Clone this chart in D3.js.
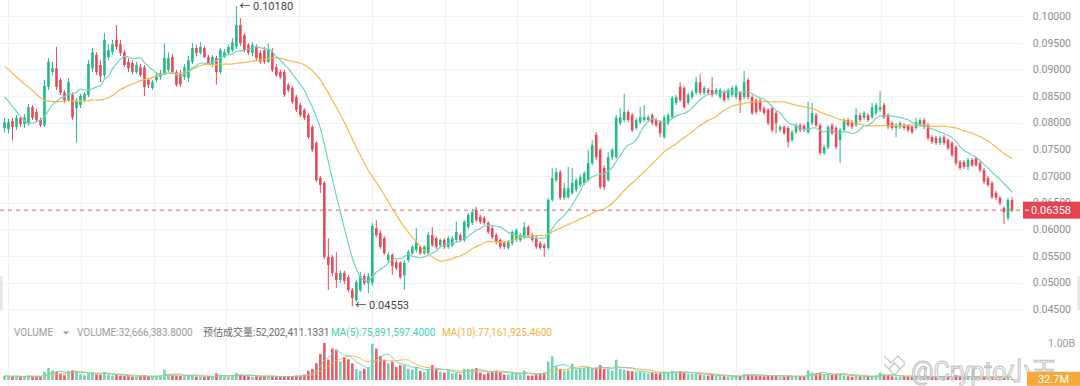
<!DOCTYPE html>
<html>
<head>
<meta charset="utf-8">
<script src="https://cdn.jsdelivr.net/npm/d3@7/dist/d3.min.js"></script>
<style>
body { margin: 0; background: #fff; }
svg { display: block; font-family: Roboto, "Noto Sans CJK SC", sans-serif; }
</style>
</head>
<body>
<div id="chart"></div>
<script>
// closes before the visible window (only feed the moving averages)
const priorCloses = [0.1000,0.1010,0.0995,0.1005,0.1012,0.1000,0.0998,0.1008,0.1003,0.1005,
  0.0960,0.0920,0.0880,0.0850,0.0830,0.0840,0.0820,0.0850,0.0855,0.0859,
  0.0880,0.0895,0.0900,0.0890,0.0885,0.0878,0.0810,0.0775,0.0766];

// [open, high, low, close]
const candles = [
[0.0790,0.0809,0.0782,0.0801],[0.0788,0.0807,0.0780,0.0801],[0.0803,0.0809,0.0767,0.0792],[0.0792,0.0814,0.0786,0.0809],[0.0809,0.0812,0.0792,0.0797],
[0.0797,0.0816,0.0790,0.0810],[0.0797,0.0835,0.0794,0.0829],[0.0829,0.0833,0.0805,0.0809],[0.0820,0.0826,0.0801,0.0805],[0.0805,0.0809,0.0792,0.0795],
[0.0795,0.0880,0.0792,0.0869],[0.0867,0.0921,0.0861,0.0914],[0.0895,0.0914,0.0889,0.0902],[0.0902,0.0942,0.0861,0.0867],[0.0880,0.0884,0.0852,0.0856],
[0.0857,0.0861,0.0837,0.0842],[0.0842,0.0884,0.0839,0.0876],[0.0852,0.0857,0.0805,0.0810],[0.0827,0.0846,0.0762,0.0841],[0.0833,0.0854,0.0827,0.0850],
[0.0842,0.0857,0.0839,0.0854],[0.0852,0.0917,0.0848,0.0910],[0.0902,0.0940,0.0895,0.0932],[0.0927,0.0932,0.0889,0.0895],[0.0908,0.0917,0.0876,0.0887],
[0.0889,0.0968,0.0884,0.0955],[0.0923,0.0947,0.0917,0.0936],[0.0932,0.0955,0.0927,0.0947],[0.0955,0.0983,0.0936,0.0942],[0.0947,0.0955,0.0925,0.0931],
[0.0932,0.0936,0.0904,0.0908],[0.0914,0.0921,0.0895,0.0902],[0.0912,0.0917,0.0891,0.0895],[0.0895,0.0914,0.0891,0.0908],[0.0904,0.0910,0.0886,0.0889],
[0.0904,0.0908,0.0850,0.0867],[0.0880,0.0884,0.0865,0.0871],[0.0865,0.0880,0.0861,0.0876],[0.0880,0.0895,0.0876,0.0889],[0.0886,0.0899,0.0880,0.0893],
[0.0893,0.0949,0.0889,0.0921],[0.0899,0.0932,0.0895,0.0921],[0.0923,0.0929,0.0891,0.0895],[0.0895,0.0899,0.0867,0.0871],[0.0891,0.0899,0.0867,0.0872],
[0.0886,0.0910,0.0880,0.0904],[0.0884,0.0925,0.0876,0.0917],[0.0914,0.0949,0.0910,0.0940],[0.0940,0.0946,0.0925,0.0931],[0.0931,0.0951,0.0927,0.0942],
[0.0940,0.0944,0.0921,0.0923],[0.0923,0.0927,0.0908,0.0912],[0.0908,0.0927,0.0904,0.0923],[0.0921,0.0925,0.0871,0.0895],[0.0895,0.0940,0.0891,0.0936],
[0.0923,0.0938,0.0921,0.0932],[0.0931,0.0947,0.0927,0.0942],[0.0936,0.0959,0.0932,0.0951],[0.0942,0.1018,0.0938,0.0983],[0.0983,0.0996,0.0944,0.0949],
[0.0964,0.0968,0.0932,0.0936],[0.0946,0.0949,0.0927,0.0931],[0.0931,0.0951,0.0925,0.0946],[0.0942,0.0947,0.0917,0.0921],[0.0931,0.0936,0.0910,0.0914],
[0.0936,0.0942,0.0910,0.0914],[0.0914,0.0949,0.0912,0.0936],[0.0932,0.0940,0.0895,0.0899],[0.0904,0.0910,0.0886,0.0889],[0.0895,0.0899,0.0882,0.0886],
[0.0895,0.0899,0.0848,0.0852],[0.0871,0.0874,0.0857,0.0861],[0.0865,0.0869,0.0835,0.0839],[0.0848,0.0852,0.0820,0.0824],[0.0833,0.0837,0.0810,0.0814],
[0.0824,0.0827,0.0805,0.0809],[0.0814,0.0818,0.0769,0.0773],[0.0792,0.0795,0.0745,0.0749],[0.0762,0.0765,0.0689,0.0692],[0.0696,0.0700,0.0668,0.0683],
[0.0687,0.0690,0.0544,0.0548],[0.0548,0.0583,0.0486,0.0533],[0.0548,0.0552,0.0512,0.0518],[0.0518,0.0557,0.0490,0.0505],[0.0505,0.0523,0.0499,0.0518],
[0.0518,0.0522,0.0497,0.0503],[0.0510,0.0514,0.0482,0.0486],[0.0486,0.0490,0.04553,0.0471],[0.0467,0.0505,0.0463,0.0501],[0.0486,0.0520,0.0482,0.0512],
[0.0512,0.0516,0.0495,0.0499],[0.0499,0.0518,0.0480,0.0512],[0.0499,0.0612,0.0493,0.0606],[0.0602,0.0617,0.0585,0.0589],[0.0593,0.0598,0.0563,0.0567],
[0.0583,0.0587,0.0552,0.0555],[0.0542,0.0557,0.0538,0.0552],[0.0552,0.0555,0.0514,0.0531],[0.0538,0.0542,0.0523,0.0527],[0.0537,0.0540,0.0507,0.0510],
[0.0514,0.0542,0.0486,0.0537],[0.0542,0.0561,0.0538,0.0557],[0.0555,0.0570,0.0552,0.0567],[0.0561,0.0602,0.0557,0.0576],[0.0567,0.0570,0.0552,0.0555],
[0.0555,0.0570,0.0552,0.0567],[0.0555,0.0595,0.0552,0.0589],[0.0589,0.0604,0.0567,0.0570],[0.0583,0.0587,0.0563,0.0567],[0.0570,0.0583,0.0567,0.0580],
[0.0580,0.0583,0.0563,0.0567],[0.0567,0.0587,0.0563,0.0583],[0.0570,0.0587,0.0567,0.0583],[0.0580,0.0614,0.0576,0.0595],[0.0589,0.0593,0.0576,0.0580],
[0.0580,0.0617,0.0576,0.0614],[0.0604,0.0630,0.0600,0.0627],[0.0612,0.0638,0.0608,0.0632],[0.0636,0.0642,0.0614,0.0617],[0.0623,0.0627,0.0610,0.0614],
[0.0621,0.0625,0.0608,0.0612],[0.0612,0.0615,0.0591,0.0595],[0.0602,0.0606,0.0582,0.0585],[0.0589,0.0593,0.0572,0.0576],[0.0580,0.0583,0.0563,0.0567],
[0.0574,0.0578,0.0563,0.0567],[0.0565,0.0580,0.0561,0.0576],[0.0574,0.0598,0.0570,0.0595],[0.0580,0.0602,0.0576,0.0598],[0.0580,0.0593,0.0576,0.0589],
[0.0585,0.0614,0.0582,0.0604],[0.0604,0.0608,0.0585,0.0589],[0.0589,0.0593,0.0576,0.0580],[0.0583,0.0587,0.0563,0.0567],[0.0574,0.0578,0.0561,0.0565],
[0.0570,0.0574,0.0548,0.0565],[0.0565,0.0659,0.0561,0.0655],[0.0655,0.0715,0.0651,0.0696],[0.0692,0.0715,0.0689,0.0707],[0.0707,0.0711,0.0655,0.0659],
[0.0659,0.0687,0.0655,0.0677],[0.0660,0.0717,0.0657,0.0677],[0.0668,0.0715,0.0664,0.0687],[0.0674,0.0696,0.0670,0.0692],[0.0683,0.0702,0.0679,0.0698],
[0.0687,0.0709,0.0683,0.0705],[0.0692,0.0749,0.0689,0.0724],[0.0724,0.0767,0.0720,0.0758],[0.0777,0.0782,0.0730,0.0735],[0.0749,0.0752,0.0675,0.0679],
[0.0715,0.0720,0.0674,0.0679],[0.0692,0.0745,0.0689,0.0735],[0.0735,0.0752,0.0730,0.0749],[0.0735,0.0814,0.0732,0.0809],[0.0799,0.0827,0.0795,0.0810],
[0.0805,0.0854,0.0801,0.0820],[0.0820,0.0824,0.0801,0.0805],[0.0814,0.0818,0.0782,0.0786],[0.0790,0.0809,0.0786,0.0805],[0.0801,0.0829,0.0797,0.0810],
[0.0805,0.0833,0.0801,0.0810],[0.0805,0.0814,0.0801,0.0810],[0.0814,0.0818,0.0795,0.0799],[0.0805,0.0809,0.0792,0.0795],[0.0801,0.0805,0.0773,0.0780],
[0.0773,0.0814,0.0769,0.0810],[0.0799,0.0818,0.0795,0.0814],[0.0810,0.0850,0.0807,0.0846],[0.0837,0.0852,0.0833,0.0848],[0.0867,0.0876,0.0839,0.0842],
[0.0865,0.0869,0.0826,0.0829],[0.0837,0.0856,0.0833,0.0852],[0.0848,0.0861,0.0844,0.0857],[0.0856,0.0886,0.0852,0.0876],[0.0876,0.0891,0.0852,0.0856],
[0.0856,0.0869,0.0852,0.0865],[0.0861,0.0865,0.0852,0.0856],[0.0861,0.0886,0.0848,0.0852],[0.0856,0.0865,0.0852,0.0861],[0.0848,0.0865,0.0844,0.0861],
[0.0857,0.0861,0.0839,0.0842],[0.0846,0.0865,0.0842,0.0861],[0.0852,0.0869,0.0848,0.0865],[0.0848,0.0871,0.0844,0.0867],[0.0856,0.0859,0.0818,0.0842],
[0.0848,0.0897,0.0844,0.0876],[0.0880,0.0884,0.0844,0.0848],[0.0848,0.0852,0.0814,0.0818],[0.0842,0.0846,0.0816,0.0820],[0.0842,0.0846,0.0820,0.0824],
[0.0827,0.0831,0.0814,0.0818],[0.0824,0.0827,0.0795,0.0799],[0.0827,0.0831,0.0782,0.0786],[0.0818,0.0822,0.0780,0.0799],[0.0786,0.0795,0.0782,0.0792],
[0.0792,0.0795,0.0777,0.0780],[0.0790,0.0794,0.0754,0.0764],[0.0767,0.0786,0.0764,0.0782],[0.0782,0.0799,0.0779,0.0795],[0.0795,0.0799,0.0782,0.0786],
[0.0794,0.0797,0.0782,0.0786],[0.0782,0.0839,0.0779,0.0801],[0.0799,0.0837,0.0795,0.0818],[0.0814,0.0818,0.0792,0.0795],[0.0795,0.0799,0.0739,0.0743],
[0.0743,0.0758,0.0739,0.0754],[0.0754,0.0795,0.0750,0.0792],[0.0795,0.0799,0.0777,0.0780],[0.0790,0.0794,0.0750,0.0754],[0.0767,0.0790,0.0724,0.0786],
[0.0786,0.0809,0.0782,0.0805],[0.0805,0.0809,0.0792,0.0795],[0.0801,0.0805,0.0788,0.0792],[0.0795,0.0827,0.0792,0.0814],[0.0814,0.0818,0.0801,0.0805],
[0.0809,0.0822,0.0805,0.0818],[0.0814,0.0818,0.0801,0.0805],[0.0810,0.0837,0.0807,0.0829],[0.0818,0.0837,0.0814,0.0833],[0.0824,0.0859,0.0820,0.0829],
[0.0833,0.0837,0.0807,0.0810],[0.0814,0.0818,0.0788,0.0792],[0.0799,0.0803,0.0786,0.0790],[0.0790,0.0799,0.0773,0.0795],[0.0792,0.0803,0.0788,0.0799],
[0.0795,0.0799,0.0786,0.0790],[0.0794,0.0797,0.0782,0.0786],[0.0792,0.0795,0.0779,0.0782],[0.0790,0.0809,0.0786,0.0801],[0.0795,0.0809,0.0792,0.0805],
[0.0805,0.0809,0.0788,0.0792],[0.0795,0.0799,0.0767,0.0771],[0.0773,0.0777,0.0760,0.0764],[0.0771,0.0775,0.0758,0.0762],[0.0762,0.0775,0.0758,0.0771],
[0.0773,0.0777,0.0758,0.0762],[0.0767,0.0771,0.0749,0.0752],[0.0762,0.0765,0.0735,0.0739],[0.0754,0.0758,0.0720,0.0724],[0.0726,0.0730,0.0711,0.0715],
[0.0726,0.0730,0.0713,0.0717],[0.0717,0.0734,0.0711,0.0730],[0.0730,0.0734,0.0717,0.0720],[0.0734,0.0735,0.0717,0.0720],[0.0724,0.0728,0.0707,0.0711],
[0.0711,0.0715,0.0685,0.0689],[0.0696,0.0700,0.0679,0.0683],[0.0687,0.0690,0.0657,0.0660],[0.0668,0.0672,0.0655,0.0659],[0.0659,0.0662,0.0645,0.0649],
[0.0640,0.0643,0.0610,0.0632],[0.0621,0.0659,0.0617,0.0655],[0.0655,0.0660,0.0632,0.06358]
];

// volume per candle, millions
const volumes = [
110,100,90,110,80,100,120,100,90,80,
220,330,260,220,160,130,250,260,250,150,
130,180,200,150,140,220,150,120,140,120,
110,100,90,80,100,130,90,90,110,120,
280,150,130,120,110,100,120,130,90,90,
80,90,90,180,130,100,90,110,190,150,
120,100,90,100,80,90,100,110,90,80,
100,90,110,120,120,150,250,300,450,700,
1000,550,850,820,500,620,560,450,300,250,
300,350,980,850,650,550,450,500,350,400,
400,300,280,350,250,220,300,400,300,220,
200,250,180,200,150,300,300,300,320,200,
150,200,220,250,220,150,150,180,200,150,
250,120,120,150,180,200,500,640,380,300,
250,280,440,280,300,320,350,300,330,400,
300,300,260,550,300,280,250,240,220,230,
200,180,190,170,180,230,200,250,200,240,
200,170,160,180,150,130,120,140,110,100,
100,90,90,100,110,160,160,150,120,110,
100,110,120,110,90,90,120,100,100,90,
90,260,200,180,200,150,160,140,150,150,
120,100,90,110,90,90,80,100,120,200,
150,130,100,90,80,80,90,80,100,90,
90,110,90,90,80,90,100,110,130,90,
85,80,75,
85,72,81,68,86,95,88,82,81.8,32.6663838
];

const priceTicks = [0.045,0.050,0.055,0.060,0.065,0.070,0.075,0.080,0.085,0.090,0.095,0.100];
const volumeTicks = [1000];
const lastPrice = 0.06358;
const legendLabels = ["VOLUME", "VOLUME:32,666,383.8000", "预估成交量:52,202,411.1331", "MA(5):75,891,597.4000", "MA(10):77,161,925.4600"];
const legendX = [14, 77, 203, 331, 442];
const legendColors = ["#9a9a9a", "#9a9a9a", "#6a6a6a", "#3fcfae", "#f3b33d"];

const GREEN = "#26b887";
const RED = "#e9485a";
const MA_SHORT = "#6fd5c0";
const MA_LONG = "#f5b94a";

function movingAverage(arr, len, offset) {
    return d3.range(candles.length).map(function (i) {
        let end = i + offset + 1;
        return d3.mean(arr.slice(Math.max(0, end - len), end));
    });
}

function drawChart(rootElement) {
    let element = d3.select("#" + rootElement);
    let width = 1080, height = 386;
    let n = candles.length;

    let svg = element.append("svg")
        .attr("width", width)
        .attr("height", height);

    let x = d3.scaleLinear().domain([0, n - 1]).range([4.5, 1012]);
    let y = d3.scaleLinear().domain([0.045, 0.1]).range([309.2, 16]);
    let yVol = d3.scaleLinear().domain([0, 1000]).range([380, 343]);
    let bodyW = 2.6;

    // grid
    let grid = svg.append("g").attr("stroke", "#f2f2f2").attr("stroke-width", 1);
    grid.selectAll(".hg").data(priceTicks).enter().append("line")
        .attr("x1", 0).attr("x2", 1022)
        .attr("y1", d => Math.round(y(d)) + 0.5).attr("y2", d => Math.round(y(d)) + 0.5);
    let gridIdx = d3.range(14).map(k => 0.9 + k * 18.2);
    grid.selectAll(".vg").data(gridIdx).enter().append("line")
        .attr("x1", d => Math.round(x(d)) + 0.5).attr("x2", d => Math.round(x(d)) + 0.5)
        .attr("y1", 0).attr("y2", height);

    // last price dashed line
    svg.append("line")
        .attr("x1", 0).attr("x2", 1023)
        .attr("y1", y(lastPrice)).attr("y2", y(lastPrice))
        .attr("stroke", "#d9505c").attr("stroke-width", 0.9)
        .attr("stroke-dasharray", "4,4");

    // candles
    let cg = svg.append("g");
    cg.selectAll("line").data(candles).enter().append("line")
        .attr("x1", (d, i) => x(i)).attr("x2", (d, i) => x(i))
        .attr("y1", d => y(d[1])).attr("y2", d => y(d[2]))
        .attr("stroke", d => d[3] >= d[0] ? GREEN : RED)
        .attr("stroke-width", 1);
    cg.selectAll("rect").data(candles).enter().append("rect")
        .attr("x", (d, i) => x(i) - bodyW / 2)
        .attr("width", bodyW)
        .attr("y", d => y(Math.max(d[0], d[3])))
        .attr("height", d => Math.max(1, Math.abs(y(d[0]) - y(d[3]))))
        .attr("fill", d => d[3] >= d[0] ? GREEN : RED);

    // moving averages
    let allCloses = priorCloses.concat(candles.map(d => d[3]));
    let ma10 = movingAverage(allCloses, 10, priorCloses.length);
    let ma30 = movingAverage(allCloses, 30, priorCloses.length);
    let line = d3.line().x((d, i) => x(i)).y(d => y(d)).curve(d3.curveMonotoneX);
    svg.append("path").attr("d", line(ma30)).attr("fill", "none")
        .attr("stroke", MA_LONG).attr("stroke-width", 1.2);
    svg.append("path").attr("d", line(ma10)).attr("fill", "none")
        .attr("stroke", MA_SHORT).attr("stroke-width", 1.2);

    // high / low markers
    let hi = d3.maxIndex(candles, d => d[1]);
    let lo = d3.minIndex(candles, d => d[2]);
    svg.append("text")
        .attr("x", x(hi) + 3).attr("y", y(candles[hi][1]) + 4)
        .attr("fill", "#444").style("font-size", "11px")
        .text("← " + d3.format(".5f")(candles[hi][1]));
    svg.append("text")
        .attr("x", x(lo) + 3).attr("y", y(candles[lo][2]) + 3)
        .attr("fill", "#444").style("font-size", "11px")
        .text("← " + d3.format(".5f")(candles[lo][2]));

    // price axis
    let yAxis = d3.axisLeft(y).tickValues(priceTicks).tickFormat(d3.format(".5f"))
        .tickSize(0).tickPadding(0);
    let ag = svg.append("g").attr("transform", "translate(1071,0)").call(yAxis);
    ag.select(".domain").remove();
    ag.attr("font-family", null).attr("font-size", null);
    ag.selectAll("text").attr("fill", "#8e8e8e").style("font-size", "10.5px");

    // last price tag
    svg.append("rect")
        .attr("x", 1023).attr("y", y(lastPrice) - 8.5)
        .attr("width", 57).attr("height", 17)
        .attr("fill", "#e4434f");
    svg.append("line")
        .attr("x1", 1025).attr("x2", 1029)
        .attr("y1", y(lastPrice)).attr("y2", y(lastPrice))
        .attr("stroke", "#fff").attr("stroke-width", 1);
    svg.append("text")
        .attr("x", 1071).attr("y", y(lastPrice) + 4)
        .attr("text-anchor", "end").attr("fill", "#fff")
        .style("font-size", "11px")
        .text(d3.format(".5f")(lastPrice));

    // side handles
    svg.append("rect").attr("x", 0).attr("y", 276).attr("width", 2.5).attr("height", 34).attr("fill", "#e4e4e4");
    svg.append("rect").attr("x", 1077.5).attr("y", 276).attr("width", 2.5).attr("height", 34).attr("fill", "#e4e4e4");

    // volume legend
    svg.selectAll(".leg").data(legendLabels).enter().append("text")
        .attr("x", (d, i) => legendX[i]).attr("y", 336)
        .attr("fill", (d, i) => legendColors[i])
        .style("font-size", "10px")
        .text(d => d);
    svg.append("path")
        .attr("d", "M63,331.5 L69,331.5 L66,334.5 Z")
        .attr("fill", "#9a9a9a");

    // volume bars
    svg.append("g").selectAll("rect").data(volumes).enter().append("rect")
        .attr("x", (d, i) => x(i) - bodyW / 2)
        .attr("width", bodyW)
        .attr("y", d => yVol(d))
        .attr("height", d => Math.max(0.8, yVol(0) - yVol(d)))
        .attr("fill", (d, i) => candles[i][3] >= candles[i][0] ? GREEN : RED)
        .attr("fill-opacity", (d, i) => candles[i][3] >= candles[i][0] ? 0.65 : 0.9);

    let vma5 = movingAverage(volumes, 5, 0);
    let vma10 = movingAverage(volumes, 10, 0);
    let vline = d3.line().x((d, i) => x(i)).y(d => yVol(d)).curve(d3.curveMonotoneX);
    svg.append("path").attr("d", vline(vma10)).attr("fill", "none")
        .attr("stroke", MA_LONG).attr("stroke-width", 1);
    svg.append("path").attr("d", vline(vma5)).attr("fill", "none")
        .attr("stroke", MA_SHORT).attr("stroke-width", 1);

    // volume axis
    svg.selectAll(".vt").data(volumeTicks).enter().append("text")
        .attr("x", 1075).attr("y", d => yVol(d) + 4)
        .attr("text-anchor", "end").attr("fill", "#9a9a9a")
        .style("font-size", "10.5px")
        .text(d => (d / 1000).toFixed(2) + "B");

    // watermark
    let wm = svg.append("g").attr("fill", "none").attr("stroke", "#c4c4c4").attr("stroke-width", 1.2);
    wm.append("path").attr("d", "M884,356 L891,363 L898,356 L905,363 M884,364 L894.5,375 L905,364 M889,369 L894.5,363 L900,369");
    svg.append("text")
        .attr("x", 911).attr("y", 380)
        .attr("fill", "rgba(255,255,255,0.55)")
        .attr("stroke", "#c2c2c2").attr("stroke-width", 1)
        .style("font-size", "25px")
        .text("@Crypto小王");

    // current volume tag
    let lastVol = volumes[volumes.length - 1];
    svg.append("rect")
        .attr("x", 1027).attr("y", yVol(lastVol) - 7)
        .attr("width", 53).attr("height", 14)
        .attr("fill", "#f4a93a");
    svg.append("text")
        .attr("x", 1069).attr("y", yVol(lastVol) + 4)
        .attr("text-anchor", "end").attr("fill", "#fff")
        .style("font-size", "11px")
        .text(d3.format(".1f")(lastVol) + "M");
}

drawChart("chart");
</script>
</body>
</html>
